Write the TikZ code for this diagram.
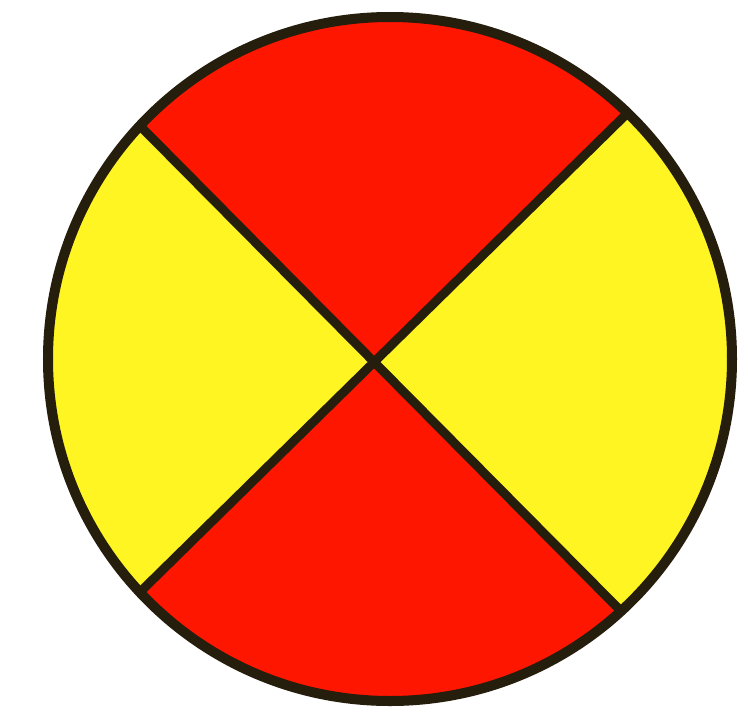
\documentclass[tikz,border=0pt]{standalone}
\usetikzlibrary{calc}
\definecolor{discred}{RGB}{255,22,0}
\definecolor{discyellow}{RGB}{255,245,35}
\definecolor{rimdark}{RGB}{38,30,12}

\begin{document}
\begin{tikzpicture}[x=0.01cm, y=0.01cm,
        rim/.style={draw=rimdark, line width=0.1cm},
        cut/.style={draw=rimdark, line width=0.09cm, line cap=round},
    ]
        \fill[white] (0,0) rectangle (748,717);
        \useasboundingbox (0,0) rectangle (748,717);

        % Disc centre and rim points
        \coordinate (o) at (390,358);
        \coordinate (ne) at ($(o)+(46:342)$);
        \coordinate (nw) at ($(o)+(137:342)$);
        \coordinate (sw) at ($(o)+(223:342)$);
        \coordinate (se) at ($(o)+(-47.5:342)$);
        \coordinate (x) at (intersection of nw--se and ne--sw);

        % Sectors
        \fill[discred] (x) -- (ne) arc[start angle=46, end angle=137, radius=342] -- cycle;
        \fill[discyellow] (x) -- (nw) arc[start angle=137, end angle=223, radius=342] -- cycle;
        \fill[discred] (x) -- (sw) arc[start angle=223, end angle=312.5, radius=342] -- cycle;
        \fill[discyellow] (x) -- (se) arc[start angle=-47.5, end angle=46, radius=342] -- cycle;

        % Cuts and rim
        \draw[cut] (nw) -- (se);
        \draw[cut] (ne) -- (sw);
        \draw[rim] (o) circle[radius=342];
    \end{tikzpicture}
\end{document}
